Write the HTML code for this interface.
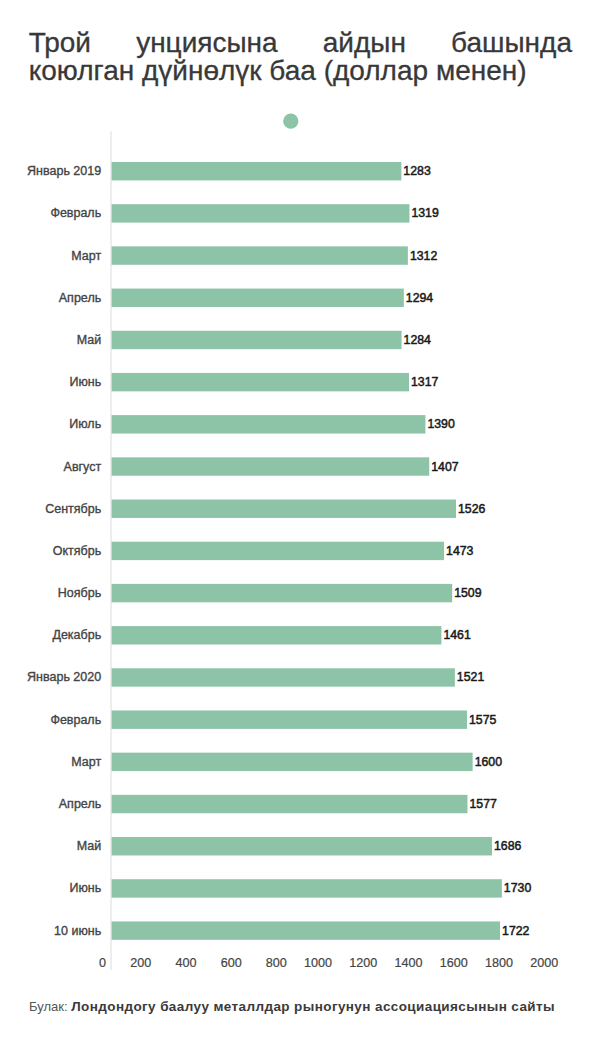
<!DOCTYPE html>
<html><head><meta charset="utf-8"><style>
html,body{margin:0;padding:0;background:#fff;width:600px;height:1045px;overflow:hidden;position:relative;font-family:"Liberation Sans",sans-serif}
.title{position:absolute;left:28.7px;top:28.6px;width:543.3px;font-size:28px;line-height:28px;color:#383838;text-align:justify;text-align-last:left;-webkit-text-stroke:0.3px #383838}
svg text{font-family:"Liberation Sans",sans-serif}
.cat{font-size:12.5px;fill:#444;stroke:#444;stroke-width:0.35px}
.val{font-size:12.3px;fill:#1a1a1a;stroke:#1a1a1a;stroke-width:0.5px}
.tick{font-size:12.6px;fill:#444;stroke:#444;stroke-width:0.2px}
.foot{position:absolute;left:29px;top:998.7px;font-size:13px;color:#555;white-space:nowrap}
.foot b{font-size:13.5px;color:#3a3a3a;letter-spacing:0.4px}
</style></head><body>
<div class="title">Трой унциясына айдын башында коюлган дүйнөлүк баа (доллар менен)</div>
<svg width="600" height="1045" viewBox="0 0 600 1045" style="position:absolute;left:0;top:0">
<line x1="111.0" y1="131.3" x2="111.0" y2="970.0" stroke="#dcdcdc" stroke-width="1"/>
<circle cx="290.8" cy="121.2" r="7.6" fill="#8dc3a7"/>
<rect x="111.6" y="162.00" width="289.76" height="18.4" fill="#8dc3a7"/>
<text x="101.2" y="175.20" text-anchor="end" class="cat">Январь 2019</text>
<text x="403.36" y="175.20" class="val">1283</text>
<rect x="111.6" y="204.19" width="297.85" height="18.4" fill="#8dc3a7"/>
<text x="101.2" y="217.39" text-anchor="end" class="cat">Февраль</text>
<text x="411.45" y="217.39" class="val">1319</text>
<rect x="111.6" y="246.38" width="296.28" height="18.4" fill="#8dc3a7"/>
<text x="101.2" y="259.58" text-anchor="end" class="cat">Март</text>
<text x="409.88" y="259.58" class="val">1312</text>
<rect x="111.6" y="288.57" width="292.23" height="18.4" fill="#8dc3a7"/>
<text x="101.2" y="301.77" text-anchor="end" class="cat">Апрель</text>
<text x="405.83" y="301.77" class="val">1294</text>
<rect x="111.6" y="330.76" width="289.98" height="18.4" fill="#8dc3a7"/>
<text x="101.2" y="343.96" text-anchor="end" class="cat">Май</text>
<text x="403.58" y="343.96" class="val">1284</text>
<rect x="111.6" y="372.95" width="297.40" height="18.4" fill="#8dc3a7"/>
<text x="101.2" y="386.15" text-anchor="end" class="cat">Июнь</text>
<text x="411.00" y="386.15" class="val">1317</text>
<rect x="111.6" y="415.14" width="313.81" height="18.4" fill="#8dc3a7"/>
<text x="101.2" y="428.34" text-anchor="end" class="cat">Июль</text>
<text x="427.41" y="428.34" class="val">1390</text>
<rect x="111.6" y="457.33" width="317.64" height="18.4" fill="#8dc3a7"/>
<text x="101.2" y="470.53" text-anchor="end" class="cat">Август</text>
<text x="431.24" y="470.53" class="val">1407</text>
<rect x="111.6" y="499.52" width="344.39" height="18.4" fill="#8dc3a7"/>
<text x="101.2" y="512.72" text-anchor="end" class="cat">Сентябрь</text>
<text x="457.99" y="512.72" class="val">1526</text>
<rect x="111.6" y="541.71" width="332.47" height="18.4" fill="#8dc3a7"/>
<text x="101.2" y="554.91" text-anchor="end" class="cat">Октябрь</text>
<text x="446.07" y="554.91" class="val">1473</text>
<rect x="111.6" y="583.90" width="340.57" height="18.4" fill="#8dc3a7"/>
<text x="101.2" y="597.10" text-anchor="end" class="cat">Ноябрь</text>
<text x="454.17" y="597.10" class="val">1509</text>
<rect x="111.6" y="626.09" width="329.78" height="18.4" fill="#8dc3a7"/>
<text x="101.2" y="639.29" text-anchor="end" class="cat">Декабрь</text>
<text x="443.38" y="639.29" class="val">1461</text>
<rect x="111.6" y="668.28" width="343.27" height="18.4" fill="#8dc3a7"/>
<text x="101.2" y="681.48" text-anchor="end" class="cat">Январь 2020</text>
<text x="456.87" y="681.48" class="val">1521</text>
<rect x="111.6" y="710.47" width="355.41" height="18.4" fill="#8dc3a7"/>
<text x="101.2" y="723.67" text-anchor="end" class="cat">Февраль</text>
<text x="469.01" y="723.67" class="val">1575</text>
<rect x="111.6" y="752.66" width="361.03" height="18.4" fill="#8dc3a7"/>
<text x="101.2" y="765.86" text-anchor="end" class="cat">Март</text>
<text x="474.63" y="765.86" class="val">1600</text>
<rect x="111.6" y="794.85" width="355.86" height="18.4" fill="#8dc3a7"/>
<text x="101.2" y="808.05" text-anchor="end" class="cat">Апрель</text>
<text x="469.46" y="808.05" class="val">1577</text>
<rect x="111.6" y="837.04" width="380.36" height="18.4" fill="#8dc3a7"/>
<text x="101.2" y="850.24" text-anchor="end" class="cat">Май</text>
<text x="493.96" y="850.24" class="val">1686</text>
<rect x="111.6" y="879.23" width="390.26" height="18.4" fill="#8dc3a7"/>
<text x="101.2" y="892.43" text-anchor="end" class="cat">Июнь</text>
<text x="503.86" y="892.43" class="val">1730</text>
<rect x="111.6" y="921.42" width="388.46" height="18.4" fill="#8dc3a7"/>
<text x="101.2" y="934.62" text-anchor="end" class="cat">10 июнь</text>
<text x="502.06" y="934.62" class="val">1722</text>
<text x="106.00" y="967.2" text-anchor="end" class="tick">0</text>
<text x="151.22" y="967.2" text-anchor="end" class="tick">200</text>
<text x="196.44" y="967.2" text-anchor="end" class="tick">400</text>
<text x="241.66" y="967.2" text-anchor="end" class="tick">600</text>
<text x="286.88" y="967.2" text-anchor="end" class="tick">800</text>
<text x="332.10" y="967.2" text-anchor="end" class="tick">1000</text>
<text x="377.32" y="967.2" text-anchor="end" class="tick">1200</text>
<text x="422.54" y="967.2" text-anchor="end" class="tick">1400</text>
<text x="467.76" y="967.2" text-anchor="end" class="tick">1600</text>
<text x="512.98" y="967.2" text-anchor="end" class="tick">1800</text>
<text x="558.20" y="967.2" text-anchor="end" class="tick">2000</text>
</svg>
<div class="foot">Булак: <b>Лондондогу баалуу металлдар рыногунун ассоциациясынын сайты</b></div>
</body></html>
